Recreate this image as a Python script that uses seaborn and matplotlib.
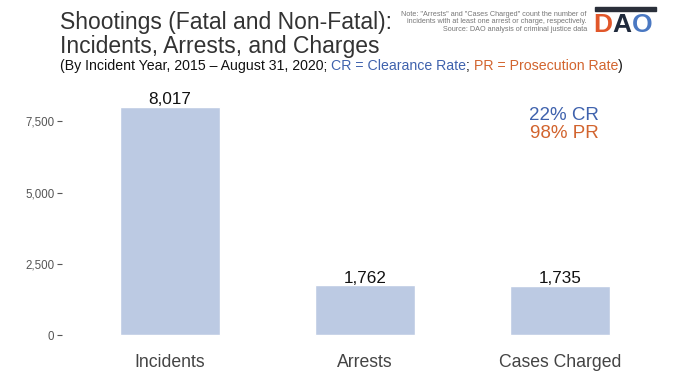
import matplotlib
matplotlib.use('Agg')
import matplotlib.pyplot as plt
import seaborn as sns
import pandas as pd
from matplotlib.ticker import FuncFormatter

sns.set_style('white')
plt.rcParams['font.family'] = ['Liberation Sans', 'DejaVu Sans']

# data
categories = ['Incidents', 'Arrests', 'Cases Charged']
counts = [8017, 1762, 1735]
yticks = [0, 2500, 5000, 7500]

bar_color = '#bccae3'
blue = '#3f62ad'
orange = '#d2642e'

df = pd.DataFrame({'category': categories, 'count': counts})

fig = plt.figure(figsize=(6.8, 3.83), dpi=100)
ax = fig.add_axes([0.091, 0.094, 0.882, 0.671])

sns.barplot(data=df, x='category', y='count', color=bar_color, width=0.51,
            saturation=1, ax=ax)

for i, v in enumerate(counts):
    ax.text(i, v + 80, f'{v:,}', ha='center', va='baseline', fontsize=12.3,
            color='#111111')

ax.set_xlim(-0.555, 2.52)
ax.set_ylim(-420, 8600)
ax.set_yticks(yticks)
ax.yaxis.set_major_formatter(FuncFormatter(lambda v, p: f'{int(v):,}'))
ax.tick_params(axis='y', labelsize=8.3, colors='#555555', length=3.5, width=0.8,
               left=True, pad=2)
ax.tick_params(axis='x', labelsize=12.7, colors='#444444', length=0, pad=5)
ax.set_xlabel('')
ax.set_ylabel('')
sns.despine(ax=ax, left=True, bottom=True)

# rates
ax.text(2.02, 7720, '22% CR', color=blue, fontsize=13.5, ha='center', va='center')
ax.text(2.02, 7080, '98% PR', color=orange, fontsize=13.5, ha='center', va='center')

# titles
fig.text(0.088, 0.972, 'Shootings (Fatal and Non-Fatal):\nIncidents, Arrests, and Charges',
         fontsize=16.5, color='#333333', ha='left', va='top', linespacing=1.08)

t1 = fig.text(0.088, 0.818, '(By Incident Year, 2015 \u2013 August 31, 2020; ',
              fontsize=10.2, color='#111111', ha='left', va='baseline')
t2 = ax.annotate('CR = Clearance Rate', xy=(1, 0), xycoords=t1, va='bottom',
                 fontsize=10.2, color=blue, annotation_clip=False)
t3 = ax.annotate('; ', xy=(1, 0), xycoords=t2, va='bottom',
                 fontsize=10.2, color='#111111', annotation_clip=False)
t4 = ax.annotate('PR = Prosecution Rate', xy=(1, 0), xycoords=t3, va='bottom',
                 fontsize=10.2, color=orange, annotation_clip=False)
ax.annotate(')', xy=(1, 0), xycoords=t4, va='bottom',
            fontsize=10.2, color='#111111', annotation_clip=False)

# note
fig.text(0.863, 0.972,
         'Note: "Arrests" and "Cases Charged" count the number of\n'
         'incidents with at least one arrest or charge, respectively.\n'
         'Source: DAO analysis of criminal justice data',
         fontsize=5.2, color='#777777', ha='right', va='top', linespacing=1.15)

# logo
fig.patches.append(plt.Rectangle((0.875, 0.971), 0.09, 0.011, transform=fig.transFigure,
                                 color='#2a2f3a'))
d = fig.text(0.873, 0.935, 'D', fontsize=19, fontweight='bold', color='#e1572a',
             ha='left', va='center')
a = ax.annotate('A', xy=(1, 0), xycoords=d, va='bottom', fontsize=19, fontweight='bold',
                color='#1f2a3c', annotation_clip=False)
ax.annotate('O', xy=(1, 0), xycoords=a, va='bottom', fontsize=19, fontweight='bold',
            color='#4a78c2', annotation_clip=False)

fig.savefig('out.png', dpi=100)
